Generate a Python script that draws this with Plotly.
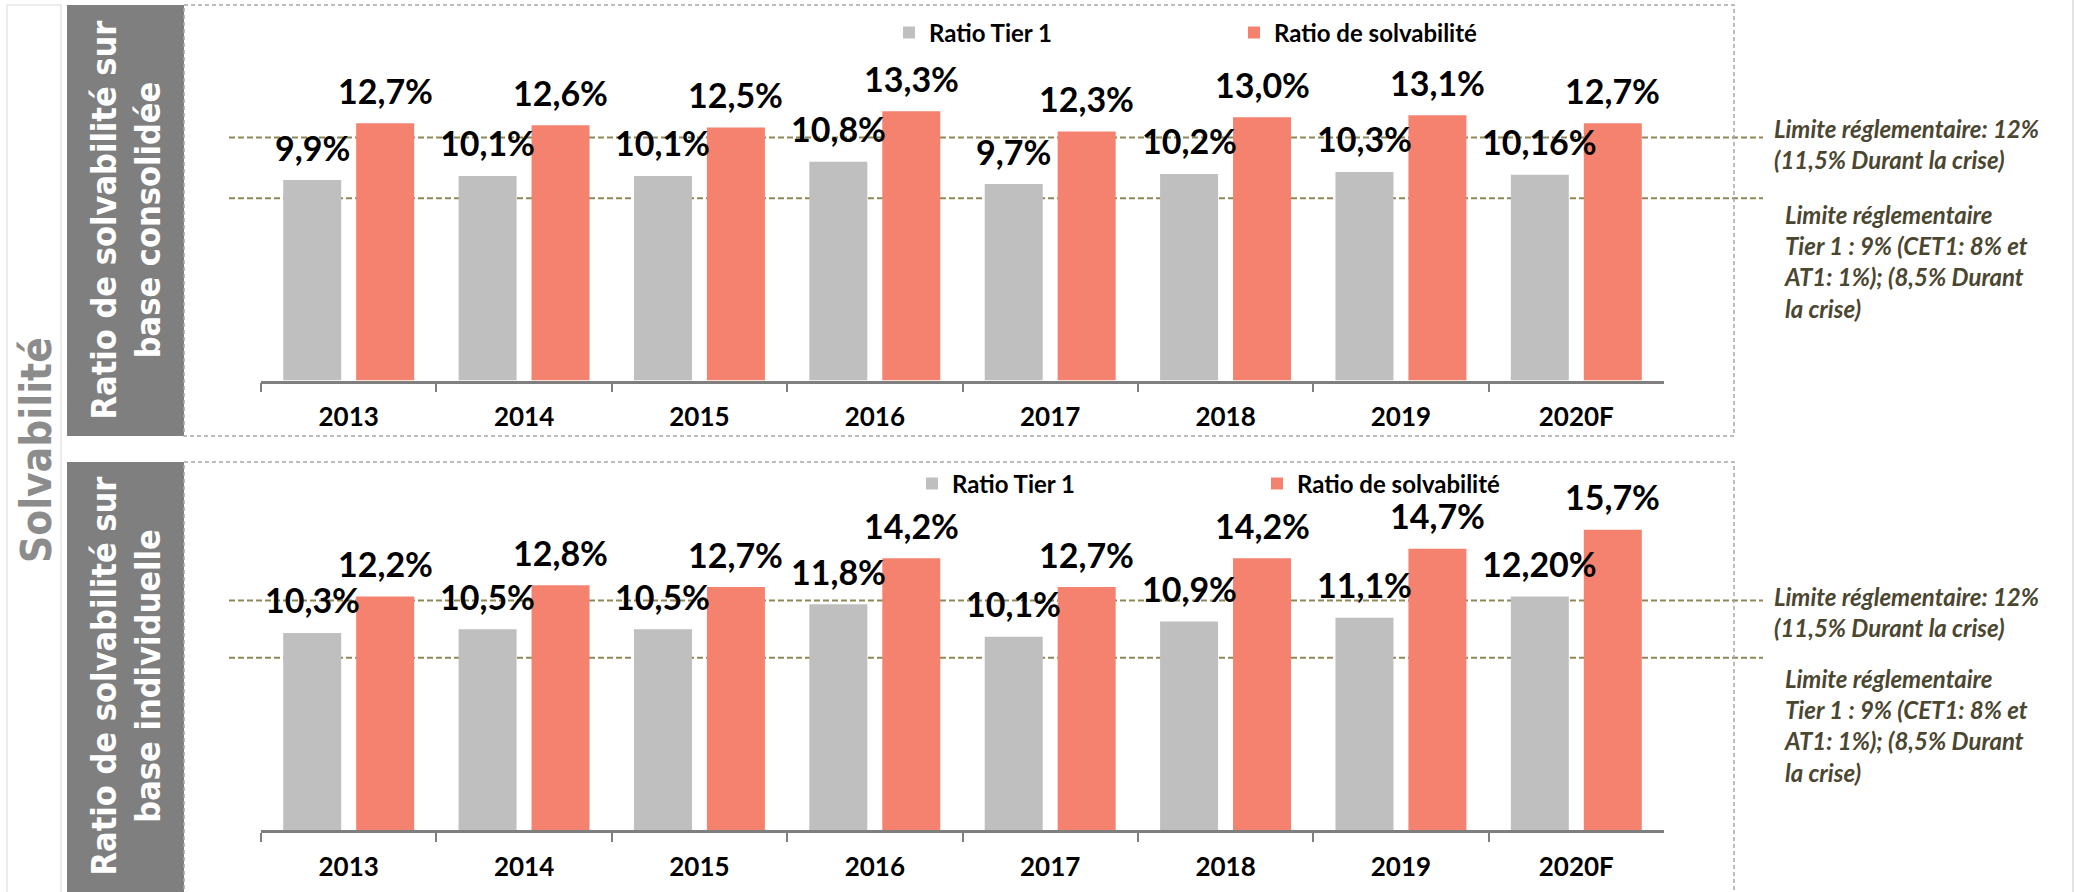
import plotly.graph_objects as go

# ---- data -------------------------------------------------------------
years = ["2013", "2014", "2015", "2016", "2017", "2018", "2019", "2020F"]

conso_tier1 = [9.9, 10.1, 10.1, 10.8, 9.7, 10.2, 10.3, 10.16]
conso_solv = [12.7, 12.6, 12.5, 13.3, 12.3, 13.0, 13.1, 12.7]
indiv_tier1 = [10.3, 10.5, 10.5, 11.8, 10.1, 10.9, 11.1, 12.20]
indiv_solv = [12.2, 12.8, 12.7, 14.2, 12.7, 14.2, 14.7, 15.7]

# number of decimals shown in each value label
conso_tier1_dec = [1, 1, 1, 1, 1, 1, 1, 2]
conso_solv_dec = [1, 1, 1, 1, 1, 1, 1, 1]
indiv_tier1_dec = [1, 1, 1, 1, 1, 1, 1, 2]
indiv_solv_dec = [1, 1, 1, 1, 1, 1, 1, 1]

series_names = ["Ratio Tier 1", "Ratio de solvabilité"]
limit_solv = 12.0
limit_tier1 = 9.0

panel_titles = ["Ratio de solvabilité sur<br>base consolidée",
                "Ratio de solvabilité sur<br>base individuelle"]
section_title = "Solvabilité"
limit_solv_text = "Limite réglementaire: 12%<br>(11,5% Durant la crise)"
limit_tier1_text = ("Limite réglementaire<br>Tier 1 : 9% (CET1: 8% et<br>"
                    "AT1: 1%); (8,5% Durant<br>la crise)")

# ---- styling ----------------------------------------------------------
W, H = 2074, 892
GREY_BAR = "#BFBFBF"
RED_BAR = "#F4826E"
BOX_GREY = "#7F7F7F"
AXIS_GREY = "#7F7F7F"
LIMIT_COL = "#8E8757"
NOTE_COL = "#4A4630"
FONT = "Lato, 'Open Sans', sans-serif"
NARROW = "'Liberation Sans Narrow', 'DejaVu Sans Condensed', sans-serif"

BARGAP = 0.168
BARGROUPGAP = 0.205


def fx(px):
    return px / W


def fy(py):
    return 1 - py / H


def fmt(v, d):
    return f"{v:.{d}f}".replace(".", ",") + "%"


# plot-area geometry (pixels) of the two panels
X0, X1 = 261, 1664
panels = [
    dict(xa="x", ya="y", base=380.5, top=5, scale=20.25, legend="legend",
         tier1=conso_tier1, solv=conso_solv,
         dec=(conso_tier1_dec, conso_solv_dec)),
    dict(xa="x2", ya="y2", base=830, top=462, scale=19.13, legend="legend2",
         tier1=indiv_tier1, solv=indiv_solv,
         dec=(indiv_tier1_dec, indiv_solv_dec)),
]

fig = go.Figure()
annotations = []
shapes = []

cat_w = (X1 - X0) / len(years)
bar_off = cat_w * (1 - BARGAP) / 4  # centre of each bar from category centre

for p in panels:
    for k, (vals, col) in enumerate([(p["tier1"], GREY_BAR), (p["solv"], RED_BAR)]):
        fig.add_trace(go.Bar(
            x=years, y=vals, name=series_names[k],
            marker=dict(color=col, line=dict(width=0)),
            xaxis=p["xa"], yaxis=p["ya"], legend=p["legend"],
            hoverinfo="skip",
        ))
        sign = -1 if k == 0 else 1
        for j, v in enumerate(vals):
            # category axes take the category index as position
            annotations.append(dict(
                x=j, y=v, xref=p["xa"], yref=p["ya"],
                text=fmt(v, p["dec"][k][j]), showarrow=False,
                xshift=sign * bar_off, yshift=33, yanchor="middle",
                font=dict(family=FONT, size=34, color="black", weight="bold"),
            ))
    # regulatory limit lines
    for lim in (limit_solv, limit_tier1):
        shapes.append(dict(
            type="line", xref="paper", yref=p["ya"],
            x0=fx(229), x1=fx(1763), y0=lim, y1=lim,
            line=dict(color=LIMIT_COL, width=2, dash="6px,3px"), layer="below",
        ))

axis_common = dict(
    type="category", domain=[fx(X0), fx(X1)], range=[-0.5, len(years) - 0.5],
    showline=True, linecolor=AXIS_GREY, linewidth=2.5,
    ticks="outside", tickson="boundaries", ticklen=9, tickwidth=2,
    tickcolor=AXIS_GREY, ticklabelstandoff=12,
    tickfont=dict(family=FONT, size=26, color="black", weight="bold"),
    showgrid=False, zeroline=False, fixedrange=True,
)

p0, p1 = panels
fig.update_layout(
    xaxis=dict(axis_common, anchor="y"),
    xaxis2=dict(axis_common, anchor="y2"),
    yaxis=dict(domain=[fy(p0["base"]), fy(p0["top"])],
               range=[0, (p0["base"] - p0["top"]) / p0["scale"]],
               visible=False, anchor="x"),
    yaxis2=dict(domain=[fy(p1["base"]), fy(p1["top"])],
                range=[0, (p1["base"] - p1["top"]) / p1["scale"]],
                visible=False, anchor="x2"),
)

legend_common = dict(
    orientation="h", xanchor="left", yanchor="middle", entrywidth=300,
    bgcolor="rgba(0,0,0,0)", traceorder="normal",
    font=dict(family=FONT, size=24, color="black", weight="bold"),
)

# frames and side labels
shapes += [
    dict(type="rect", xref="paper", yref="paper", x0=fx(7), x1=fx(61),
         y0=fy(5), y1=fy(900), line=dict(color="#D9D9D9", width=1)),
    dict(type="line", xref="paper", yref="paper", x0=fx(2073), x1=fx(2073),
         y0=0, y1=1, line=dict(color="#C8C8C8", width=1)),
    dict(type="rect", xref="paper", yref="paper", x0=fx(67), x1=fx(184),
         y0=fy(5), y1=fy(436), fillcolor=BOX_GREY, line=dict(width=0),
         layer="below"),
    dict(type="rect", xref="paper", yref="paper", x0=fx(67), x1=fx(184),
         y0=fy(462), y1=fy(900), fillcolor=BOX_GREY, line=dict(width=0),
         layer="below"),
    dict(type="rect", xref="paper", yref="paper", x0=fx(184), x1=fx(1734),
         y0=fy(5), y1=fy(436),
         line=dict(color="#A6A6A6", width=1.5, dash="4px,3px")),
    dict(type="rect", xref="paper", yref="paper", x0=fx(184), x1=fx(1734),
         y0=fy(462), y1=fy(900),
         line=dict(color="#A6A6A6", width=1.5, dash="4px,3px")),
]

annotations += [
    dict(x=fx(36), y=fy(450), xref="paper", yref="paper", text=section_title,
         textangle=-90, showarrow=False, xanchor="center", yanchor="middle",
         font=dict(family=NARROW, size=42, color="#8C8C8C", weight="bold")),
    dict(x=fx(125.5), y=fy(220), xref="paper", yref="paper",
         text=panel_titles[0], textangle=-90, showarrow=False,
         xanchor="center", yanchor="middle",
         font=dict(family=NARROW, size=34, color="white", weight="bold")),
    dict(x=fx(125.5), y=fy(676), xref="paper", yref="paper",
         text=panel_titles[1], textangle=-90, showarrow=False,
         xanchor="center", yanchor="middle",
         font=dict(family=NARROW, size=34, color="white", weight="bold")),
]

note_font = dict(family=FONT, size=24, color=NOTE_COL, weight="bold",
                 style="italic")
for (y_solv, y_tier1) in ((144, 261), (612, 725)):
    annotations.append(dict(x=fx(1772), y=fy(y_solv), xref="paper",
                            yref="paper", text=limit_solv_text,
                            showarrow=False, xanchor="left", yanchor="middle",
                            align="left", font=note_font))
    annotations.append(dict(x=fx(1782), y=fy(y_tier1), xref="paper",
                            yref="paper", text=limit_tier1_text,
                            showarrow=False, xanchor="left", yanchor="middle",
                            align="left", font=note_font))

fig.update_layout(
    width=W, height=H, margin=dict(l=0, r=0, t=0, b=0),
    paper_bgcolor="white", plot_bgcolor="white",
    barmode="group", bargap=BARGAP, bargroupgap=BARGROUPGAP,
    legend=dict(legend_common, x=fx(889), y=fy(33)),
    legend2=dict(legend_common, x=fx(912), y=fy(484)),
    shapes=shapes, annotations=annotations,
    showlegend=True, hovermode=False,
)

fig.write_html("out.html")
